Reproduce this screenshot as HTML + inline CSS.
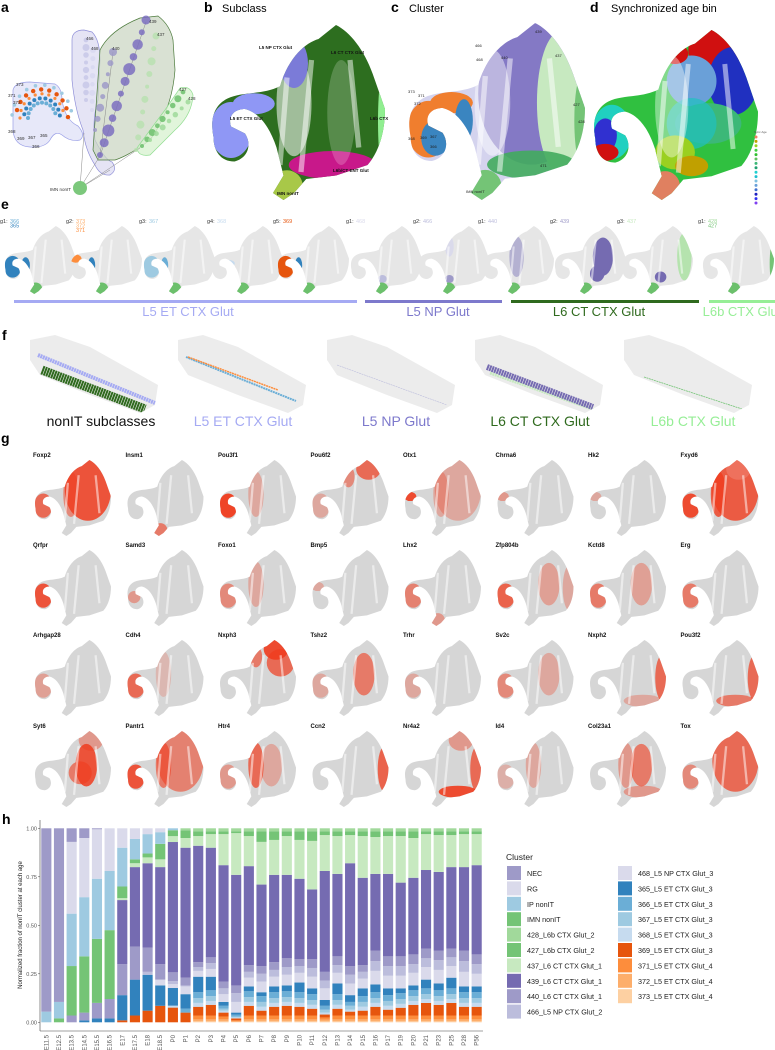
<!DOCTYPE html>
<html><head><meta charset="utf-8">
<style>
html,body{margin:0;padding:0;background:#fff;}
svg{display:block;font-family:"Liberation Sans",Arial,sans-serif;}
</style></head>
<body>
<svg id="fig" width="775" height="1050" viewBox="0 0 775 1050" xmlns="http://www.w3.org/2000/svg">
<defs>
<clipPath id="umclip" clipPathUnits="userSpaceOnUse"><path d="M40,35 C45,18 55,10 62,8 L72,0 C80,4 88,14 93,28 L100,48 C100,60 97,72 90,80 L72,86 L55,88 L48,96 L42,100 L36,96 L42,86 L38,70 C34,58 28,50 20,48 C14,48 10,52 12,58 L20,62 C24,68 22,76 14,78 C6,78 2,72 2,64 C0,54 2,46 10,42 C18,38 30,40 40,35 Z"/></clipPath>
<clipPath id="fclip" clipPathUnits="userSpaceOnUse"><path d="M0,5 L25,0 L60,12 L128,50 L125,70 L110,78 L60,60 L10,40 L0,25 Z"/></clipPath>
</defs>

<g font-weight="bold" font-size="14" fill="#000">
<text x="1" y="12">a</text>
<text x="204" y="12">b</text>
<text x="391" y="12">c</text>
<text x="590" y="12">d</text>
<text x="1" y="209">e</text>
<text x="2" y="340">f</text>
<text x="1" y="443">g</text>
<text x="2" y="824">h</text>
</g>
<text x="222" y="12" font-size="11">Subclass</text>
<text x="409" y="12" font-size="11">Cluster</text>
<text x="611" y="12" font-size="11">Synchronized age bin</text>

<g id="tree">
<path d="M13,90 Q15,82 30,82 L55,84 Q62,88 62,100 Q65,120 78,126 Q86,135 80,140 Q70,142 62,135 Q55,130 50,140 Q45,148 30,147 Q14,146 13,130 Z" fill="#c9ccf2" fill-opacity="0.45" stroke="#9a9fe6" stroke-width="0.7"/>
<path d="M72,40 Q72,30 84,30 L92,32 Q100,40 100,60 L98,100 Q92,120 95,140 Q105,160 112,162 Q118,170 110,175 Q100,176 95,165 Q85,150 83,130 Q75,110 72,80 Z" fill="#d3d2ef" fill-opacity="0.6" stroke="#8f8fd8" stroke-width="0.7"/>
<path d="M93,150 L100,50 Q110,30 140,18 L158,16 Q170,25 173,40 L175,70 Q172,110 150,140 Q130,155 115,160 L98,160 Z" fill="#c9d4c1" fill-opacity="0.7" stroke="#4c7a3c" stroke-width="0.7"/>
<path d="M137,148 Q150,130 165,110 L180,88 Q190,85 193,95 Q192,115 175,130 L150,155 Q138,157 137,148 Z" fill="#d9f2d2" fill-opacity="0.8" stroke="#90dd90" stroke-width="0.7"/>
<g stroke="#888" stroke-width="0.5" fill="none">
<line x1="80" y1="188" x2="84" y2="133"/><line x1="80" y1="188" x2="100" y2="156"/><line x1="80" y1="188" x2="110" y2="170"/><line x1="80" y1="188" x2="140" y2="148"/>
<line x1="100" y1="156" x2="146" y2="22"/><line x1="100" y1="156" x2="113" y2="52"/>
</g>
<g id="treedots"></g>
<circle cx="80" cy="188" r="7" fill="#7cc87c"/>
<g font-size="4.5" fill="#333">
<text x="50" y="191">IMN nonIT</text>
<text x="149" y="23">439</text><text x="157" y="36">437</text><text x="112" y="50">440</text>
<text x="86" y="40">466</text><text x="91" y="50">468</text>
<text x="179" y="91">427</text><text x="188" y="100">428</text>
<text x="16" y="86">373</text><text x="8" y="97">371</text><text x="13" y="104">372</text>
<text x="8" y="133">368</text><text x="17" y="140">369</text><text x="28" y="139">367</text><text x="40" y="137">365</text><text x="32" y="148">366</text>
</g>
</g>

<g id="umaps"></g>

<g>
<rect x="14" y="300" width="343" height="3" fill="#a5aaf3"/>
<rect x="365" y="300" width="137" height="3" fill="#7d79cc"/>
<rect x="511" y="300" width="188" height="3" fill="#2f6a1e"/>
<rect x="709" y="300" width="66" height="3" fill="#96ee96"/>
<g font-size="13">
<text x="188" y="316" text-anchor="middle" fill="#a5aaf3">L5 ET CTX Glut</text>
<text x="438" y="316" text-anchor="middle" fill="#7d79cc">L5 NP Glut</text>
<text x="599" y="316" text-anchor="middle" fill="#2f6a1e">L6 CT CTX Glut</text>
<text x="742" y="316" text-anchor="middle" fill="#96ee96">L6b CTX Glut</text>
</g></g>

<g id="fpanel"></g>
<g id="chart"></g>
<g id="legend"></g>
</svg>

<script>
const ages = ["E11.5","E12.5","E13.5","E14.5","E15.5","E16.5","E17","E17.5","E18","E18.5","P0","P1","P2","P3","P4","P5","P6","P7","P8","P9","P10","P11","P12","P13","P14","P15","P16","P17","P19","P20","P21","P23","P25","P28","P56"];
const clusters = ["NEC","RG","IP nonIT","IMN nonIT","428_L6b CTX Glut_2","427_L6b CTX Glut_2","437_L6 CT CTX Glut_1","439_L6 CT CTX Glut_1","440_L6 CT CTX Glut_1","466_L5 NP CTX Glut_2","468_L5 NP CTX Glut_3","365_L5 ET CTX Glut_3","366_L5 ET CTX Glut_3","367_L5 ET CTX Glut_3","368_L5 ET CTX Glut_3","369_L5 ET CTX Glut_3","371_L5 ET CTX Glut_4","372_L5 ET CTX Glut_4","373_L5 ET CTX Glut_4"];
const clusterColors = ["#9e9ac8","#dadaeb","#9ecae1","#74c476","#a1d99b","#74c476","#c7e9c0","#756bb1","#9e9ac8","#bcbddc","#dadaeb","#3182bd","#6baed6","#9ecae1","#c6dbef","#e6550d","#fd8d3c","#fdae6b","#fdd0a2"];
const vNEC = [.945,.895,.07,.05,.005,0,0,0,0,0,0,0, 0,0,0,0,0,0,0,0,0,0,0,0,0,0,0,0,0,0,0,0,0,0,0];
const vRG  = [0,0,.37,.305,.255,.22,.10,.055,.03,.02,0,0, 0,0,0,0,0,0,0,0,0,0,0,0,0,0,0,0,0,0,0,0,0,0,0];
const vIP  = [.055,.085,.27,.305,.31,.305,.20,.105,.10,.06,.01,0, 0,0,0,0,0,0,0,0,0,0,0,0,0,0,0,0,0,0,0,0,0,0,0];
const vIMN = [0,.02,.255,.29,.33,.355,0,0,0,0,0,0, 0,0,0,0,0,0,0,0,0,0,0,0,0,0,0,0,0,0,0,0,0,0,0];
const v428 = [0,0,0,0,0,0,0,0,0,0,0,.01, .015,.015,.015,.015,.015,.015,.015,.015,.015,.015,.015,.015,.015,.015,.015,.015,.015,.015,.015,.015,.015,.015,.015];
const v427 = [0,0,0,0,0,0,.06,.02,.02,.08,.03,.04, .025,.015,.015,.01,.025,.055,.045,.025,.045,.05,.02,.025,.02,.025,.03,.025,.025,.035,.015,.02,.02,.015,.015];
const v437 = [0,0,0,0,0,0,.01,.02,.03,.04,.03,.05, .05,.07,.16,.215,.155,.22,.18,.20,.20,.25,.185,.195,.145,.215,.19,.195,.24,.205,.185,.19,.165,.17,.16];
const v439 = [0,0,0,0,0,0,.33,.41,.435,.50,.665,.67, .60,.565,.60,.57,.51,.42,.45,.43,.415,.36,.52,.425,.53,.45,.395,.425,.38,.395,.405,.405,.42,.43,.46];
const v440 = [0,0,.035,.04,.08,.10,.16,.17,.125,.08,.045,.04, .025,.03,.035,.04,.035,.04,.04,.045,.035,.045,.045,.045,.045,.035,.055,.05,.05,.05,.05,.05,.045,.055,.05];
const v466 = [0,0,0,0,0,0,0,0,.015,0,.015,.005, .02,.03,.03,.045,.03,.04,.035,.04,.035,.045,.04,.04,.045,.035,.05,.05,.05,.045,.045,.05,.045,.055,.05];
const v468 = [0,0,0,0,0,0,0,0,0,.03,.02,.04, .03,.04,.04,.055,.045,.055,.05,.055,.05,.06,.06,.055,.06,.05,.07,.065,.065,.065,.065,.07,.06,.075,.065];
const v365 = [0,0,0,.01,.02,.02,.13,.185,.185,.105,.09,.075, .08,.07,.02,.01,.025,.02,.03,.03,.05,.03,.03,.055,.035,.04,.04,.035,.025,.025,.045,.035,.055,.03,.03];
const v366 = [0,0,0,0,0,0,0,0,0,0,0,.02, .03,.03,.015,.01,.03,.03,.03,.03,.03,.03,.02,.03,.02,.03,.03,.03,.03,.03,.03,.03,.03,.03,.03];
const v367 = [0,0,0,0,0,0,0,0,0,0,0,0, .025,.025,.01,.005,.025,.025,.025,.025,.025,.025,.015,.025,.02,.025,.025,.025,.025,.025,.025,.025,.025,.025,.025];
const v368 = [0,0,0,0,0,0,0,0,0,0,.01,0, .02,.02,.01,.005,.02,.02,.02,.02,.02,.02,.01,.02,.01,.02,.02,.02,.02,.02,.02,.02,.02,.02,.02];
const v369 = [0,0,0,0,0,0,.01,.035,.06,.085,.075,.05, .045,.055,.02,.01,.05,.025,.045,.05,.045,.035,.015,.035,.02,.025,.045,.03,.04,.055,.065,.055,.065,.045,.045];
const v371 = [0,0,0,0,0,0,0,0,0,0,0,0, .02,.02,.015,.005,.02,.02,.02,.02,.02,.02,.012,.02,.02,.02,.02,.02,.02,.02,.02,.02,.02,.02,.02];
const v372 = [0,0,0,0,0,0,0,0,0,0,0,0, .01,.01,.01,.003,.01,.01,.01,.01,.01,.01,.008,.01,.01,.01,.01,.01,.01,.01,.01,.01,.01,.01,.01];
const v373 = [0,0,0,0,0,0,0,0,0,0,0,0, .005,.005,.005,.002,.005,.005,.005,.005,.005,.005,.005,.005,.005,.005,.005,.005,.005,.005,.005,.005,.005,.005,.005];
const series = [vNEC,vRG,vIP,vIMN,v428,v427,v437,v439,v440,v466,v468,v365,v366,v367,v368,v369,v371,v372,v373];
const yTicks = [0,0.25,0.5,0.75,1];
const yTickLabels = ["0.00","0.25","0.50","0.75","1.00"];

const NS = "http://www.w3.org/2000/svg";
function mk(tag, attrs, parent){const e=document.createElementNS(NS,tag);for(const k in attrs)e.setAttribute(k,attrs[k]);if(parent)parent.appendChild(e);return e;}

(function(){
  const g=document.getElementById('chart');
  const plotL=40, plotR=483, y0=1022.3, y1=828.3;
  const step=(plotR-plotL)/ages.length, bw=step*0.8;
  const xScale=i=>plotL+step*(i+0.5);
  const yScale=v=>y0-(y0-y1)*v;
  ages.forEach((age,i)=>{
    let tot=0; series.forEach(s=>tot+=s[i]);
    let cum=0;
    for(let k=series.length-1;k>=0;k--){
      const v=series[k][i]/tot; if(v<=0) continue;
      const r=mk('rect',{x:xScale(i)-bw/2,y:yScale(cum+v),width:bw,height:yScale(cum)-yScale(cum+v),fill:clusterColors[k]},g);
      
      
      cum+=v;
    }
    const t=mk('text',{x:0,y:0,transform:`translate(${xScale(i)+2},1035) rotate(-90)`,'text-anchor':'end','font-size':'6','fill':'#555'},g);
    t.textContent=age;
    
    
  });
  const ax=mk('line',{x1:plotL,y1:820,x2:plotL,y2:1031,stroke:'#444','stroke-width':'0.6'},g);
  
  
  const bx=mk('line',{x1:plotL,y1:1031,x2:plotR,y2:1031,stroke:'#444','stroke-width':'0.6'},g);
  
  
  yTicks.forEach((v,j)=>{
    mk('line',{x1:plotL-2,x2:plotL,y1:yScale(v),y2:yScale(v),stroke:'#444','stroke-width':'0.5'},g);
    const t=mk('text',{x:plotL-3,y:yScale(v)+2,'text-anchor':'end','font-size':'5.5',fill:'#555'},g);
    t.textContent=yTickLabels[j];
    
    
  });
  const yt=mk('text',{transform:'translate(22,925) rotate(-90)','text-anchor':'middle','font-size':'6',fill:'#222'},g);
  yt.textContent='Normalized fraction of nonIT cluster at each age';
  
  
})();

(function(){
  const g=document.getElementById('legend');
  const tt=mk('text',{x:506,y:860,'font-size':'8.5',fill:'#222'},g);
  tt.textContent='Cluster';
  
  
  clusters.forEach((c,i)=>{
    const col=i<10?0:1, row=i<10?i:i-10;
    const x=col?618:507, y=866+row*15.4;
    const e=mk('g',{},g);
    
    
    mk('rect',{x:x,y:y,width:14,height:14,fill:clusterColors[i]},e);
    const t=mk('text',{x:x+20,y:y+10,'font-size':'7.2',fill:'#222'},e);
    t.textContent=c;
  });
})();

const UM="M40,35 C45,18 55,10 62,8 L72,0 C80,4 88,14 93,28 L100,48 C100,60 97,72 90,80 L72,86 L55,88 L48,96 L42,100 L36,96 L42,86 L38,70 C34,58 28,50 20,48 C14,48 10,52 12,58 L20,62 C24,68 22,76 14,78 C6,78 2,72 2,64 C0,54 2,46 10,42 C18,38 30,40 40,35 Z";
const R={body:[70,40,30,40],arm:[12,60,12,16],stem:[44,92,9,9],right:[95,50,9,30],lower:[70,80,25,8],top:[74,12,16,14],center:[68,45,14,28],left:[48,45,10,30],armtip:[8,48,8,6],np:[48,22,8,14],mid:[60,55,15,15]};
function umap(parent,x,y,w,h,base,ov,name){
  const g=mk('g',{transform:`translate(${x},${y}) scale(${w/100},${h/100})`},parent);
  
  
  mk('path',{d:UM,fill:base},g);
  const c=mk('g',{'clip-path':'url(#umclip)'},g);
  ov.forEach(o=>{const r=R[o[0]]||o[0];mk('ellipse',{cx:r[0],cy:r[1],rx:r[2],ry:r[3],fill:o[1],'fill-opacity':o[2]==null?1:o[2]},c);});
  mk('path',{d:"M44,30 L40,80 M58,20 L52,84 M80,20 L85,70",stroke:'#ffffff','stroke-width':'3','stroke-opacity':'0.5',fill:'none'},c);
  return g;
}
const U=document.getElementById('umaps');
umap(U,210,25,175,175,'#2d6e1f',[['left','#ffffff',0.55],['np','#7b7bd8'],['arm','#8f97f5'],[[25,45,12,6],'#8f97f5'],['lower','#c8188a'],['stem','#a8c848'],[[99,55,3,28],'#90ee90'],[[75,50,8,30],'#ffffff',0.2]],'subclass-umap');
umap(U,407,23,178,177,'#d4d3ee',[['body','#7b6fc0',0.9],[[86,45,13,40],'#c7e9c0'],[[98,55,4,25],'#74c476'],['lower','#41ab5d',0.9],['arm','#f07e2e'],[[25,45,12,6],'#f07e2e'],[[16,65,8,10],'#3a85c0'],[[32,55,5,12],'#3a85c0'],['stem','#74c476'],['left','#ffffff',0.45]],'cluster-umap');
umap(U,592,30,166,170,'#30c040',[['top','#d01010'],[[85,30,15,20],'#2030c0'],[[60,30,15,15],'#6aa0d8'],[[70,55,20,12],'#3cb878'],['mid','#20c0c0',0.7],[[50,72,12,10],'#9ad020'],['arm','#20d0c0'],[[8,62,7,10],'#3030d0'],[[8,72,8,5],'#d01010'],[[60,80,10,6],'#c0a000'],['stem','#e08060'],[[50,14,8,6],'#d01010'],['left','#ffffff',0.4]],'age-bin-umap');
(function(){
  const cols=['#f08060','#c0a000','#9ad020','#40d040','#30c030','#60c060','#3cb878','#20a070','#20d0d0','#20c0d0','#80c0e0','#6aa0d8','#4070d0','#2020c0','#3030f0','#8040f0'];
  const lg=mk('g',{},U);
  
  
  const t=mk('text',{x:754,y:133,'font-size':'3',fill:'#555'},lg); t.textContent='Sync Age';
  cols.forEach((c,i)=>{mk('circle',{cx:756,cy:137+i*4.4,r:1.5,fill:c},lg);});
})();
(function(){
  const a=[[259,49,'L5 NP CTX Glut'],[331,54,'L6 CT CTX Glut'],[230,120,'L5 ET CTX Glut'],[370,120,'L6b CTX'],[333,172,'L6b/CT ENT Glut'],[277,195,'IMN nonIT']];
  a.forEach(p=>{const t=mk('text',{x:p[0],y:p[1],'font-size':'4.5','font-weight':'bold',fill:'#111'},U);t.textContent=p[2];
  
  });
  const c=[[535,33,'439'],[555,57,'437'],[475,47,'466'],[476,61,'468'],[501,59,'440'],[408,93,'373'],[418,97,'371'],[414,105,'372'],[573,106,'427'],[578,123,'428'],[408,140,'368'],[420,139,'369'],[430,138,'367'],[430,148,'366'],[540,167,'471'],[466,193,'IMN nonIT']];
  c.forEach(p=>{const t=mk('text',{x:p[0],y:p[1],'font-size':'4',fill:'#222'},U);t.textContent=p[2];
  
  });
})();
(function(){
  const spec=[
    ['g1:',[['366','#6baed6'],['365','#3182bd']],[['arm','#3182bd'],[[30,58,6,12],'#3182bd']]],
    ['g2:',[['373','#fdae6b'],['372','#fdae6b'],['371','#fd8d3c']],[['armtip','#fd8d3c'],[[30,58,5,12],'#3182bd']]],
    ['g3:',[['367','#9ecae1']],[['arm','#9ecae1'],[[30,58,5,12],'#6baed6']]],
    ['g4:',[['368','#c6dbef']],[[[25,55,8,5],'#c6dbef'],[[33,70,2,10],'#e6550d']]],
    ['g5:',[['369','#e6550d']],[['arm','#e6550d'],[[30,58,5,12],'#3182bd']]],
    ['g1:',[['468','#dadaeb']],[[[45,78,6,6],'#bcbddc']]],
    ['g2:',[['466','#bcbddc']],[[[45,78,6,6],'#9e9ac8'],[[45,30,6,15],'#dadaeb']]],
    ['g1:',[['440','#bcbddc']],[['left','#9e9ac8',0.7]]],
    ['g2:',[['439','#9e9ac8']],[['center','#756bb1'],[[60,70,10,12],'#756bb1']]],
    ['g3:',[['437','#c7e9c0']],[[[88,45,10,35],'#b5e3ae'],[[55,75,8,8],'#756bb1']]],
    ['g1:',[['428','#a1d99b'],['427','#74c476']],[[[98,55,4,30],'#74c476']]]
  ];
  const lx=[0,66,139,207,273,346,413,478,550,617,698];
  spec.forEach((s,i)=>{
    const x0=lx[i];
    umap(U,x0+4,226,72,68,'#e6e6e6',s[2].concat([['stem','#6cc06c']]),'group-umap');
    const t=mk('text',{x:x0,y:223,'font-size':'5.5',fill:'#333'},U);
    
    
    t.textContent=s[0];
    s[1].forEach((n,j)=>{const ts=mk('tspan',{fill:n[1],x:x0+(s[0].length*3)+1,dy:j?4.5:0},t);ts.textContent=n[0];});
  });
})();
(function(){
  const genes=[
    ['Foxp2',[['body','#f03c1e',0.85],['arm','#f03c1e',0.7],['left','#f03c1e',0.5]]],
    ['Insm1',[['stem','#f03c1e',0.6]]],
    ['Pou3f1',[['arm','#f03c1e',0.95],['left','#f03c1e',0.3]]],
    ['Pou6f2',[['top','#f03c1e',0.7],['np','#f03c1e',0.5],['arm','#f03c1e',0.3]]],
    ['Otx1',[['armtip','#f03c1e',0.9],['body','#f03c1e',0.3],['left','#f03c1e',0.3]]],
    ['Chrna6',[['armtip','#f03c1e',0.4]]],
    ['Hk2',[['armtip','#f03c1e',0.3]]],
    ['Fxyd6',[['body','#f03c1e',0.8],['arm','#f03c1e',0.9],['left','#f03c1e',0.8],['top','#f08070',0.6]]],
    ['Qrfpr',[['arm','#f03c1e',0.85]]],
    ['Samd3',[[[10,62,8,8],'#f03c1e',0.4]]],
    ['Foxo1',[['arm','#f03c1e',0.5],['left','#f03c1e',0.3]]],
    ['Bmp5',[['armtip','#f03c1e',0.3]]],
    ['Lhx2',[['arm','#f03c1e',0.55],['stem','#f03c1e',0.4]]],
    ['Zfp804b',[['arm','#f03c1e',0.75],['center','#f03c1e',0.35],['right','#f03c1e',0.3]]],
    ['Kctd8',[['arm','#f03c1e',0.6],['center','#f03c1e',0.35]]],
    ['Erg',[['arm','#f03c1e',0.6]]],
    ['Arhgap28',[['arm','#f03c1e',0.35]]],
    ['Cdh4',[['arm','#f03c1e',0.7],['left','#f03c1e',0.2]]],
    ['Nxph3',[['top','#f03c1e',0.9],[[80,30,18,18],'#f03c1e',0.7],['np','#f03c1e',0.6]]],
    ['Tshz2',[['center','#f03c1e',0.6],['arm','#f03c1e',0.3]]],
    ['Trhr',[['arm','#f03c1e',0.3]]],
    ['Sv2c',[['arm','#f03c1e',0.5],['center','#f03c1e',0.3]]],
    ['Nxph2',[['right','#f03c1e',0.7],['lower','#f03c1e',0.3]]],
    ['Pou3f2',[['right','#f03c1e',0.7],['lower','#f03c1e',0.6]]],
    ['Syt6',[['center','#f03c1e',0.85],['mid','#f03c1e',0.6],['top','#f03c1e',0.4]]],
    ['Pantr1',[['arm','#f03c1e',0.85],['body','#f03c1e',0.55],['left','#f03c1e',0.6]]],
    ['Htr4',[['left','#f03c1e',0.7],['arm','#f03c1e',0.4],['center','#f03c1e',0.3]]],
    ['Ccn2',[['right','#f03c1e',0.75]]],
    ['Nr4a2',[['right','#f03c1e',0.7],['lower','#f03c1e',0.9],['top','#f03c1e',0.4]]],
    ['Id4',[['left','#f03c1e',0.3],['arm','#f03c1e',0.25]]],
    ['Col23a1',[['center','#f03c1e',0.6],['left','#f03c1e',0.4],['lower','#f03c1e',0.4]]],
    ['Tox',[['body','#f03c1e',0.7],['arm','#f03c1e',0.5]]]
  ];
  const rowY=[457,547,637,728];
  genes.forEach((gn,i)=>{
    const r=Math.floor(i/8), c=i%8;
    const lx=33+c*92.5, ly=rowY[r];
    const t=mk('text',{x:lx,y:ly,'font-size':'6','font-weight':'bold',fill:'#111'},U);
    t.textContent=gn[0];
    
    
    umap(U,lx+1,ly+3,77,76,'#d6d6d6',gn[1],'gene-umap');
  });
})();
(function(){
  const g=document.getElementById('treedots');
  const chains=[
    [[100,155],[146,20],'#7b6fc0',12,[3,6]],
    [[95,130],[113,52],'#9e9ac8',8,[2,4]],
    [[136,150],[156,36],'#b8e0b0',10,[2,4]],
    [[142,146],[183,92],'#6cc06c',9,[2,3.5]],
    [[150,140],[188,102],'#9fd99a',7,[2,3]],
    [[86,100],[86,40],'#c8c8e8',9,[2,3.5]],
    [[92,110],[93,50],'#d8d8f0',8,[2,3]]
  ];
  chains.forEach(ch=>{
    for(let k=0;k<ch[3];k++){
      const t=k/(ch[3]-1);
      const c=mk('circle',{cx:ch[0][0]+(ch[1][0]-ch[0][0])*t,cy:ch[0][1]+(ch[1][1]-ch[0][1])*t,r:ch[4][0]+(ch[4][1]-ch[4][0])*((k*7)%5)/4,fill:ch[2],'fill-opacity':0.85},g);
      
      
    }
  });
  const arcs=[['#fd8d3c',22,0,1.6],['#e6550d',26,0.3,2.2],['#3182bd',18,0.2,2],['#6baed6',14,0,2],['#9ecae1',30,0.1,1.8]];
  arcs.forEach(a=>{
    for(let k=0;k<10;k++){
      const ang=Math.PI*(1.0+a[2]*0.3)+k*(Math.PI*0.9/9);
      const cx=42+Math.cos(ang)*a[1], cy=118+Math.sin(ang)*a[1]*1.1;
      const c=mk('circle',{cx:cx,cy:cy,r:a[3],fill:a[0]},g);
      
      
    }
  });
})();
(function(){
  const F=document.getElementById('fpanel');
  const xs=[30,178,327,475,624];
  const labs=[['nonIT subclasses','#111',101],['L5 ET CTX Glut','#a5aaf3',243],['L5 NP Glut','#7d79cc',396],['L6 CT CTX Glut','#2f6a1e',540],['L6b CTX Glut','#96ee96',693]];
  const bands=[
    [['#a5aaf3',4,[8,20,125,68]],['#2f6a1e',9,[12,35,115,74]]],
    [['#6baed6',2,[8,22,118,66]],['#fd8d3c',1.5,[10,22,100,55]]],
    [['#bcbddc',0.6,[10,30,120,70]]],
    [['#c7e9c0',3,[15,38,120,75]],['#756bb1',6,[12,32,118,72]]],
    [['#74c476',0.8,[20,42,118,74]]]
  ];
  xs.forEach((x,i)=>{
    const g=mk('g',{transform:`translate(${x},335)`},F);
    
    
    mk('path',{d:"M0,5 L25,0 L60,12 L128,50 L125,70 L110,78 L60,60 L10,40 L0,25 Z",fill:'#ececec'},g);
    const c=mk('g',{'clip-path':'url(#fclip)'},g);
    bands[i].forEach(b=>{mk('line',{x1:b[2][0],y1:b[2][1],x2:b[2][2],y2:b[2][3],stroke:b[0],'stroke-width':b[1],'stroke-dasharray':'2 0.6'},c);});
    const t=mk('text',{x:labs[i][2],y:426,'text-anchor':'middle','font-size':'14',fill:labs[i][1]},F);
    t.textContent=labs[i][0];
    
    
  });
})();
</script>
</body></html>
